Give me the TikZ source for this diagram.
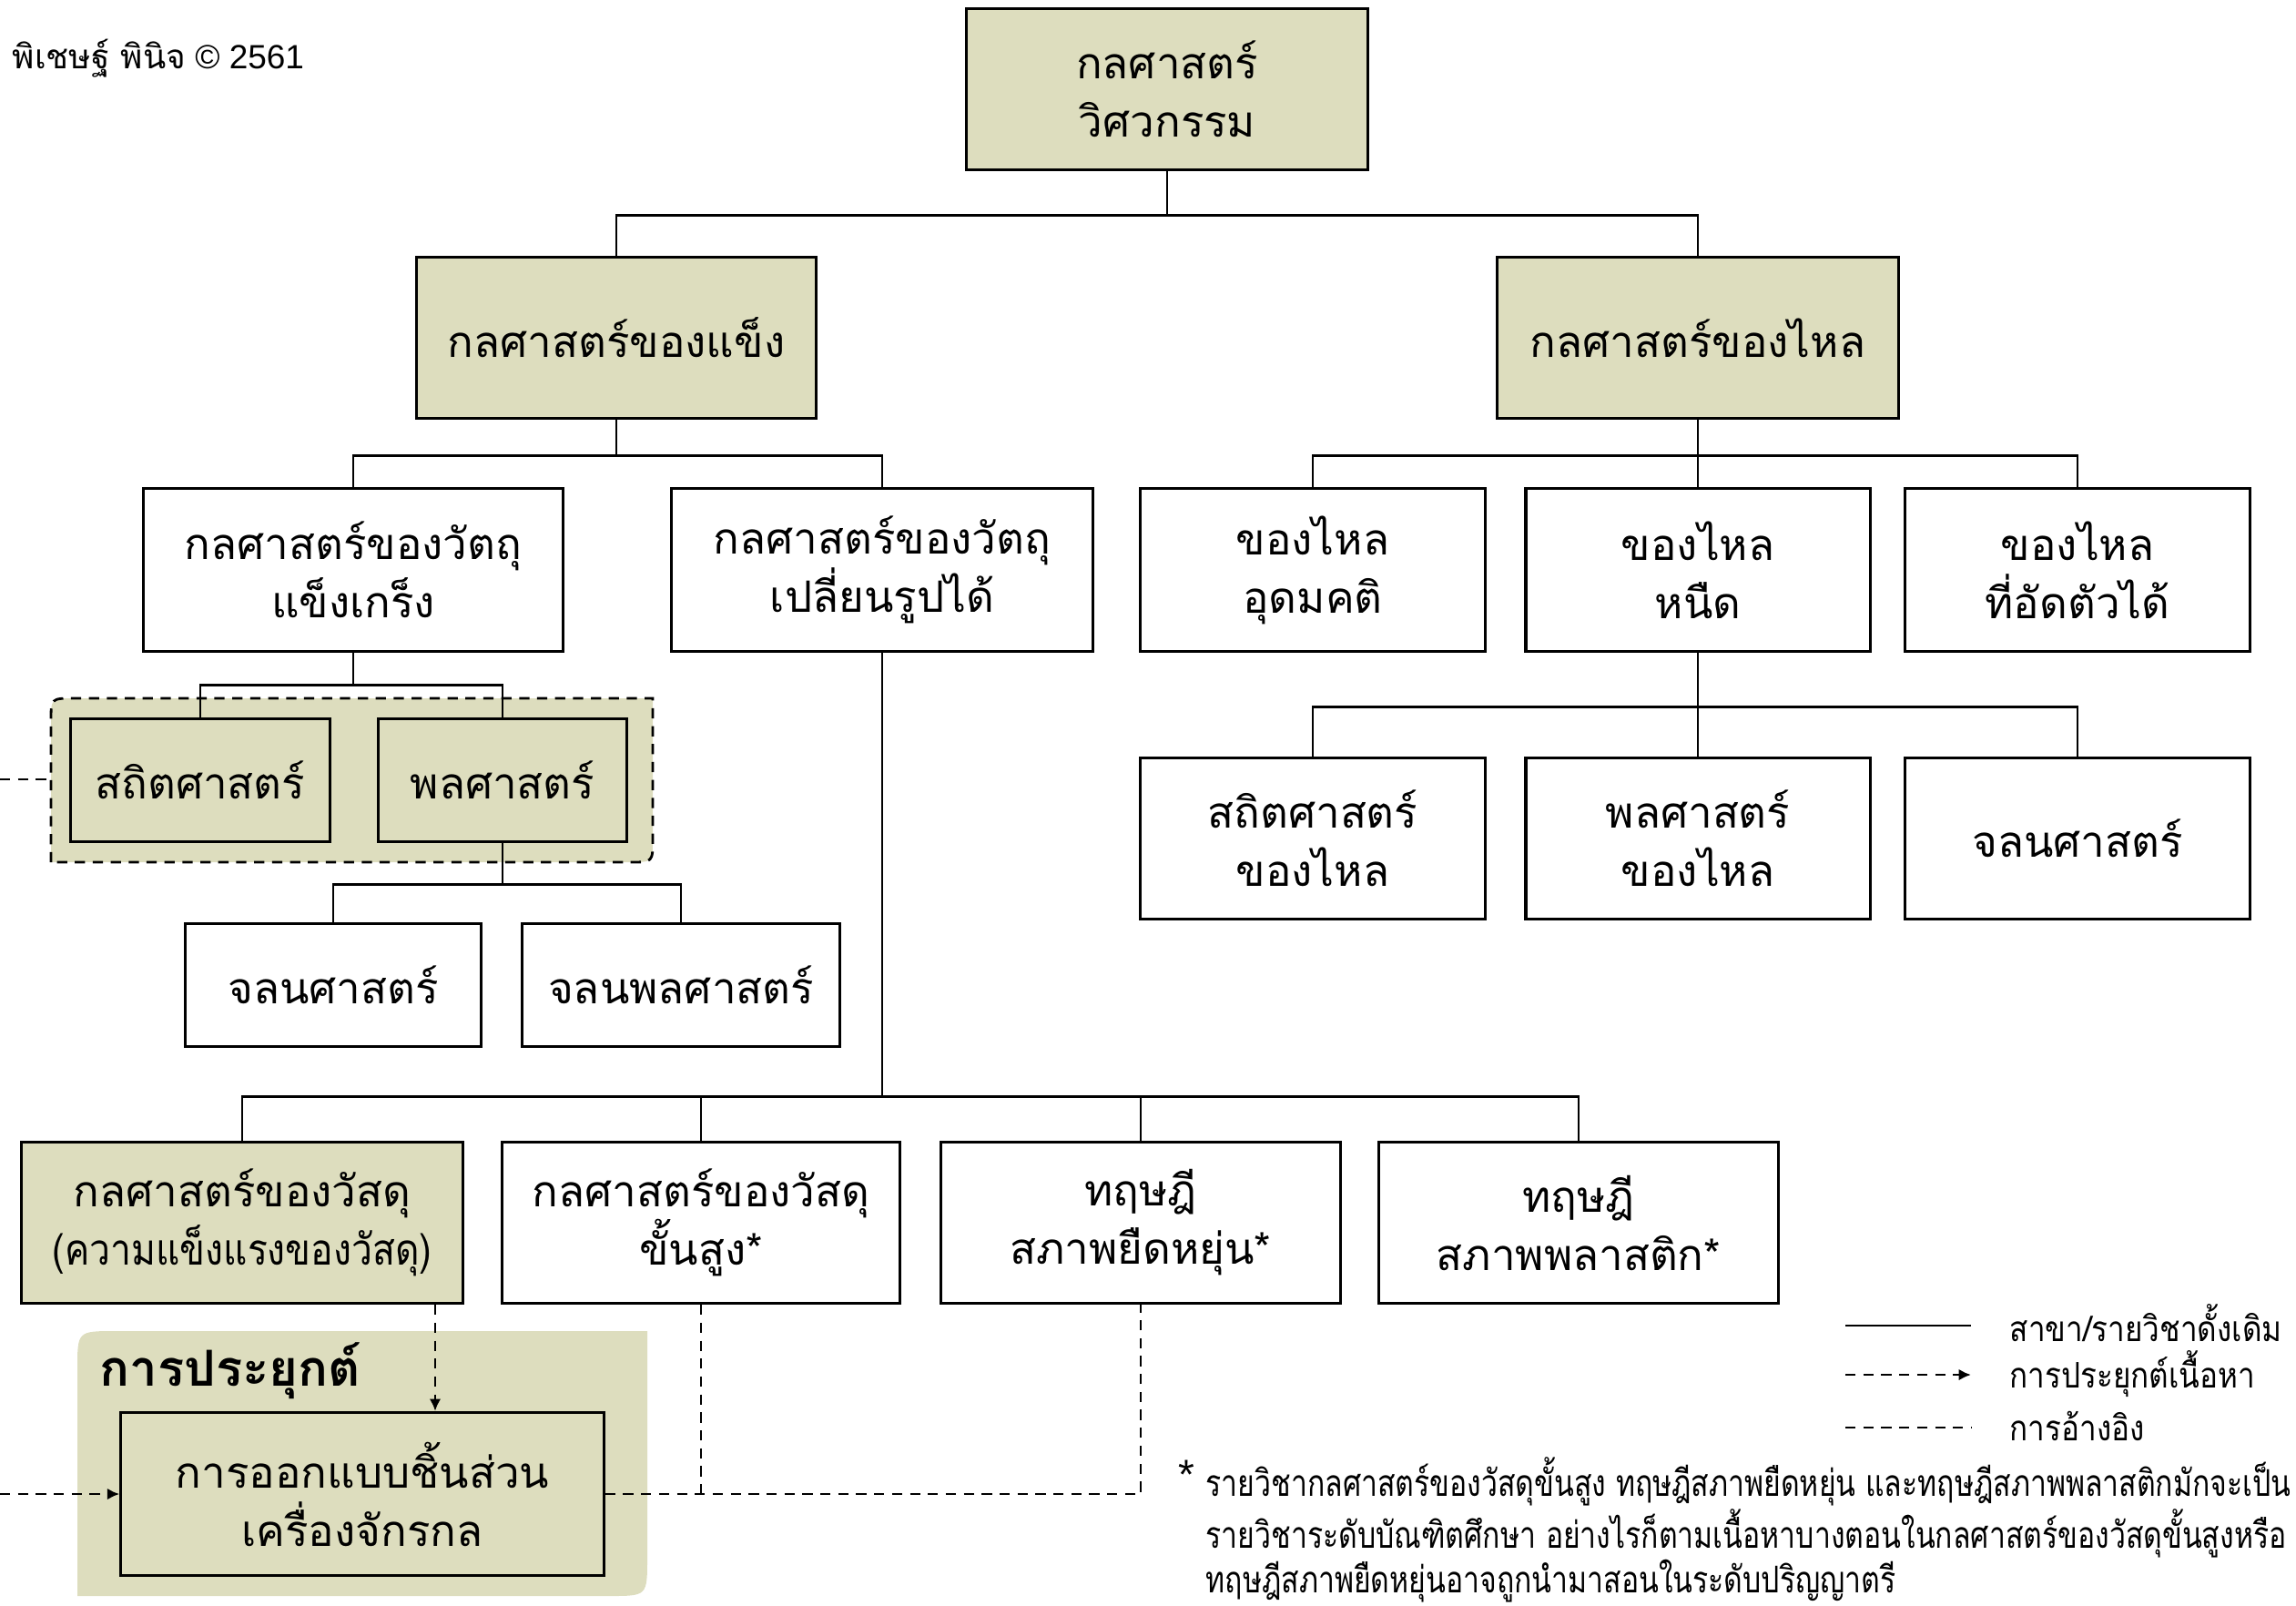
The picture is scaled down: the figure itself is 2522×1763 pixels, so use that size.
\documentclass[tikz,border=0pt]{standalone}
\usepackage{fontspec}
\setmainfont{Liberation Sans}
\newfontfamily\thai[Script=Thai]{Loma}
\newfontfamily\thainote[Script=Thai,FakeStretch=0.79]{Loma}
\newfontfamily\thaileg[Script=Thai,FakeStretch=0.86]{Loma}
\newfontfamily\thaimat[Script=Thai,FakeStretch=0.86]{Loma}
\usetikzlibrary{arrows.meta}

\definecolor{khaki}{RGB}{221,221,190}

\newcommand{\boxfont}{\thai\fontsize{13.5}{18.2}\selectfont}
\newcommand{\notefont}{\thainote\fontsize{11.5}{13.8}\selectfont}
\newcommand{\legfont}{\thaileg\fontsize{11}{15}\selectfont}

\tikzset{
  box/.style={draw,line width=0.9pt,fill=white,align=center,
    inner sep=0pt,font=\boxfont},
  keybox/.style={box,fill=khaki},
  tree/.style={line width=0.8pt},
  refline/.style={line width=0.8pt,dash pattern=on 3.2pt off 2.4pt},
  appline/.style={refline,-{Latex[length=3.8pt,width=3.6pt]}},
  legtext/.style={anchor=west,inner sep=0pt,font=\legfont}
}

\begin{document}
\begin{tikzpicture}[x=0.01cm,y=-0.01cm]

\useasboundingbox (0,0) rectangle (2522,1763);

% ---------- กลุ่มพื้นหลัง ----------
% กลุ่มสถิตศาสตร์/พลศาสตร์
\draw[refline,fill=khaki]
  (56,947) -- (56,792) .. controls (56,767) .. (81,767)
  -- (717,767) -- (717,922) .. controls (717,947) .. (692,947) -- cycle;

% กลุ่มการประยุกต์
\fill[khaki]
  (85,1753) -- (85,1504) .. controls (85,1462) .. (127,1462)
  -- (711,1462) -- (711,1711) .. controls (711,1753) .. (669,1753) -- cycle;
\node[anchor=base west,inner sep=0pt,font=\thai\fontsize{15.5}{17}\selectfont\bfseries]
  (applbl) at (109,1522) {การประยุกต์};

% ---------- กล่อง ----------
\node[keybox,minimum width=4.40cm,minimum height=1.77cm] (eng) at (1282,98)
  {กลศาสตร์\\วิศวกรรม};

\node[keybox,minimum width=4.39cm,minimum height=1.77cm] (solid) at (677,371)
  {กลศาสตร์ของแข็ง};
\node[keybox,minimum width=4.41cm,minimum height=1.77cm] (fluid) at (1865,371)
  {กลศาสตร์ของไหล};

\node[box,minimum width=4.61cm,minimum height=1.79cm] (rigid) at (388,626)
  {กลศาสตร์ของวัตถุ\\แข็งเกร็ง};
\node[box,minimum width=4.62cm,minimum height=1.79cm] (deform) at (969,626)
  {กลศาสตร์ของวัตถุ\\เปลี่ยนรูปได้};

\node[box,minimum width=3.78cm,minimum height=1.79cm] (ideal) at (1442,626)
  {ของไหล\\อุดมคติ};
\node[box,minimum width=3.78cm,minimum height=1.79cm] (viscous) at (1865,626)
  {ของไหล\\หนืด};
\node[box,minimum width=3.79cm,minimum height=1.79cm] (compress) at (2282,626)
  {ของไหล\\ที่อัดตัวได้};

\node[keybox,minimum width=2.85cm,minimum height=1.35cm] (statics) at (220,857)
  {สถิตศาสตร์};
\node[keybox,minimum width=2.73cm,minimum height=1.35cm] (dynamics) at (552,857)
  {พลศาสตร์};

\node[box,minimum width=3.25cm,minimum height=1.35cm] (kinem) at (366,1082)
  {จลนศาสตร์};
\node[box,minimum width=3.48cm,minimum height=1.35cm] (kinet) at (748,1082)
  {จลนพลศาสตร์};

\node[box,minimum width=3.78cm,minimum height=1.77cm] (fstat) at (1442,921)
  {สถิตศาสตร์\\ของไหล};
\node[box,minimum width=3.78cm,minimum height=1.77cm] (fdyn) at (1865,921)
  {พลศาสตร์\\ของไหล};
\node[box,minimum width=3.79cm,minimum height=1.77cm] (fkin) at (2282,921)
  {จลนศาสตร์};

\node[keybox,minimum width=4.84cm,minimum height=1.77cm] (matmech) at (266,1343)
  {กลศาสตร์ของวัสดุ\\{\thaimat(ความแข็งแรงของวัสดุ)}};
\node[box,minimum width=4.37cm,minimum height=1.77cm] (advanced) at (770,1343)
  {กลศาสตร์ของวัสดุ\\ขั้นสูง*};
\node[box,minimum width=4.39cm,minimum height=1.77cm] (elastic) at (1253,1343)
  {ทฤษฎี\\สภาพยืดหยุ่น*};
\node[box,minimum width=4.38cm,minimum height=1.77cm] (plastic) at (1734,1343)
  {ทฤษฎี\\สภาพพลาสติก*};

\node[keybox,minimum width=5.30cm,minimum height=1.79cm] (design) at (398,1641)
  {การออกแบบชิ้นส่วน\\เครื่องจักรกล};

% ---------- เส้นสาขา ----------
\draw[tree] (eng.south) -- ++(0,48) -| (solid.north);
\draw[tree] (eng.south) -- ++(0,48) -| (fluid.north);

\draw[tree] (solid.south) -- ++(0,39) -| (rigid.north);
\draw[tree] (solid.south) -- ++(0,39) -| (deform.north);

\foreach \n in {ideal,viscous,compress}
  \draw[tree] (fluid.south) -- ++(0,39) -| (\n.north);

\draw[tree] (rigid.south) -- ++(0,35) -| (statics.north);
\draw[tree] (rigid.south) -- ++(0,35) -| (dynamics.north);

\draw[tree] (dynamics.south) -- ++(0,45) -| (kinem.north);
\draw[tree] (dynamics.south) -- ++(0,45) -| (kinet.north);

\foreach \n in {matmech,advanced,elastic,plastic}
  \draw[tree] (deform.south) -- ++(0,487) -| (\n.north);

\foreach \n in {fstat,fdyn,fkin}
  \draw[tree] (viscous.south) -- ++(0,59) -| (\n.north);

% ---------- การประยุกต์และการอ้างอิง ----------
\coordinate (grpin) at (0,856);
\coordinate (grpw) at (56,856);
\draw[refline] (grpin) -- (grpw);

\coordinate (appx) at (478,0);
\draw[appline] (matmech.south -| appx) -- (design.north -| appx);

\coordinate (appin) at (0,1641);
\draw[appline] (appin) -- (design.west);

\draw[refline] (design.east) -| (elastic.south);
\draw[refline] (advanced.south) -- (advanced.south |- design.east);

% ---------- คำอธิบายสัญลักษณ์ ----------
\node[legtext] (legA) at (2207,1453) {สาขา/รายวิชาดั้งเดิม};
\node[legtext] (legB) at (2207,1509) {การประยุกต์เนื้อหา};
\node[legtext] (legC) at (2207,1566) {การอ้างอิง};
\coordinate (lgA) at (2027,1456);
\coordinate (lgB) at (2027,1510);
\coordinate (lgC) at (2027,1568);
\draw[tree] (lgA) -- ++(138,0);
\draw[appline] (lgB) -- ++(138,0);
\draw[refline] (lgC) -- ++(138,0);

% ---------- หมายเหตุ ----------
\node[inner sep=0pt,font=\fontsize{13}{13}\selectfont] (star) at (1303,1620) {*};
\node[anchor=north west,align=left,inner sep=0pt,font=\notefont] (note) at (1324,1600)
  {รายวิชากลศาสตร์ของวัสดุขั้นสูง ทฤษฎีสภาพยืดหยุ่น และทฤษฎีสภาพพลาสติกมักจะเป็น\\
   รายวิชาระดับบัณฑิตศึกษา อย่างไรก็ตามเนื้อหาบางตอนในกลศาสตร์ของวัสดุขั้นสูงหรือ\\
   ทฤษฎีสภาพยืดหยุ่นอาจถูกนำมาสอนในระดับปริญญาตรี};

\node[anchor=west,inner sep=0pt,font=\fontsize{10.5}{12}\selectfont] (credit) at (13,64)
  {{\thai พิเชษฐ์ พินิจ} © 2561};

\end{tikzpicture}
\end{document}
